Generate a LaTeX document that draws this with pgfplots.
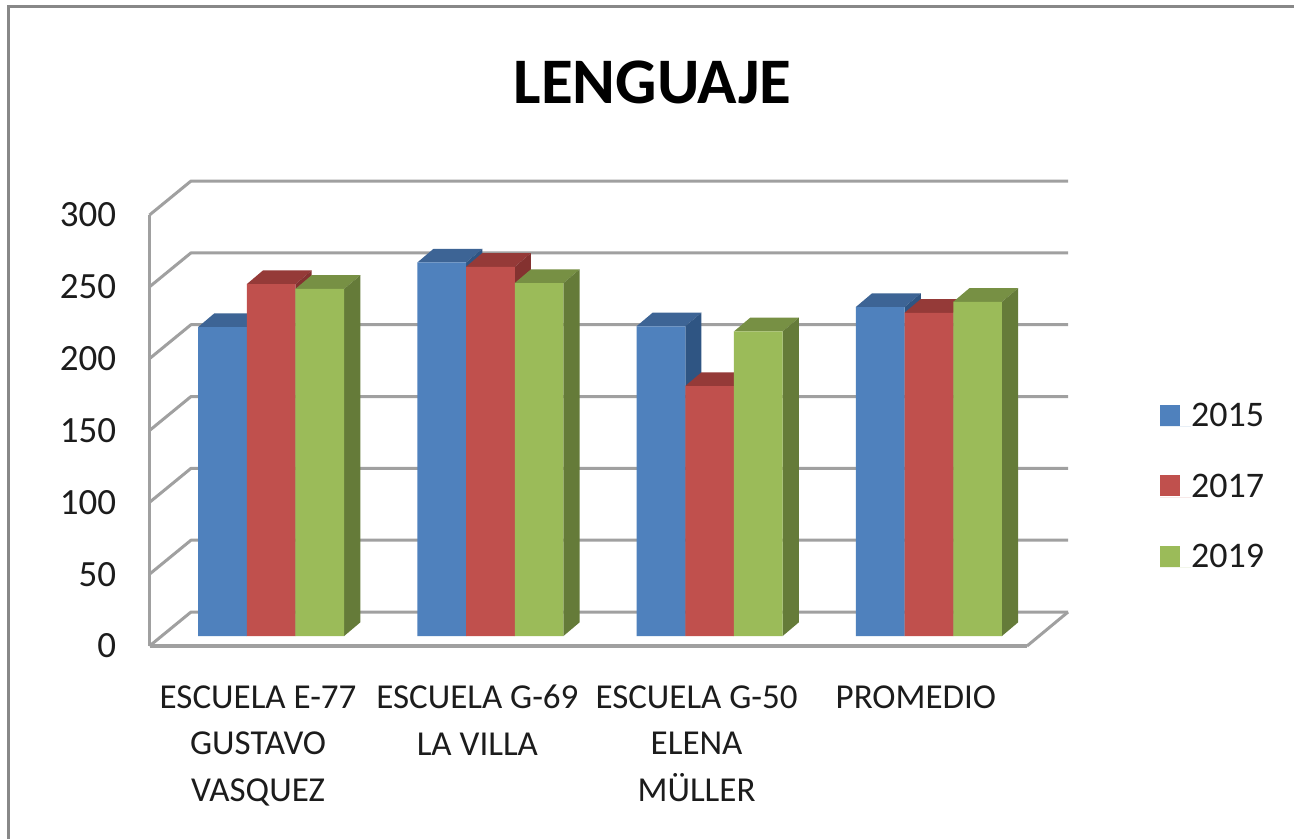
\documentclass[border=0pt]{standalone}
\usepackage{fontspec}
\setmainfont{Carlito}
\usepackage{pgfplots}
\pgfplotsset{compat=1.18}
\definecolor{blueF}{HTML}{4F81BD}
\definecolor{blueT}{HTML}{3D6495}
\definecolor{blueS}{HTML}{2F5583}
\definecolor{redF}{HTML}{C0504D}
\definecolor{redT}{HTML}{953A38}
\definecolor{redS}{HTML}{843230}
\definecolor{greenF}{HTML}{9BBB59}
\definecolor{greenT}{HTML}{779044}
\definecolor{greenS}{HTML}{657B39}
\definecolor{wall}{HTML}{A0A0A0}
\definecolor{frame}{HTML}{888888}
\definecolor{ink}{HTML}{1C1C1C}

% top and side of one bar: x centre, value, top colour, side colour
\newcommand{\barfaces}[4]{%
  \pgfmathsetmacro\xl{#1-24.35}%
  \pgfmathsetmacro\xr{#1+24.35}%
  \pgfmathsetmacro\xlb{#1-24.35+16.2}%
  \pgfmathsetmacro\xrb{#1+24.35+16.2}%
  \pgfmathsetmacro\vb{#2+9.54}%
  \addplot[fill=#3,draw=none,forget plot] coordinates {(\xl,#2) (\xr,#2) (\xrb,\vb) (\xlb,\vb)};
  \addplot[fill=#4,draw=none,forget plot] coordinates {(\xr,0) (\xr,#2) (\xrb,\vb) (\xrb,9.54)};
}
% one wall line: front value
\newcommand{\wallline}[1]{%
  \pgfmathsetmacro\vb{#1+23.66}%
  \addplot[wall,line width=3pt,line join=round] coordinates {(0,#1) (41.5,\vb) (918.5,\vb)};
}

\begin{document}
\begin{tikzpicture}[x=1pt,y=1pt]
\path[use as bounding box] (0,0) rectangle (1294,-839);
\fill[white] (0,0) rectangle (1294,-839);
\draw[frame,line width=3.2pt] (8.5,-839) -- (8.5,-6.5) -- (1294,-6.5);
\node[font=\fontsize{65}{65}\bfseries\selectfont,text=black] at (652.5,-82) {LENGUAJE};

% walls, floor and ticks
\begin{axis}[
    at={(149.5pt,-646pt)}, anchor=origin,
    scale only axis,
    width=877.5pt, height=431pt,
    xmin=0, xmax=877.5, ymin=0, ymax=300,
    clip=false,
    axis x line=bottom, axis y line=left,
    axis line style={wall,line width=3.6pt,-},
    major tick style={draw=none},
    ytick={0,50,...,300},
    xtick={109.6,328.9,548.1,767.4},
    xticklabels={{ESCUELA E-77\\GUSTAVO\\VASQUEZ},{ESCUELA G-69\\LA VILLA},{ESCUELA G-50\\ELENA\\MÜLLER},{PROMEDIO}},
    /pgf/number format/assume math mode=true,
    y tick label style={font=\fontsize{37}{37}\selectfont,text=ink,inner sep=0pt,xshift=-31pt},
    x tick label style={font=\fontsize{35}{46.5}\selectfont,text=ink,align=center,anchor=north,inner sep=0pt,yshift=-37pt,xshift=-1pt},
]
\wallline{0}
\wallline{50}
\wallline{100}
\wallline{150}
\wallline{200}
\wallline{250}
\wallline{300}
\addplot[wall,line width=3pt] coordinates {(877.5,0) (918.5,23.66)};
\end{axis}

% bars
\begin{axis}[
    at={(149.5pt,-636pt)}, anchor=origin,
    scale only axis,
    width=877.5pt, height=431pt,
    xmin=0, xmax=877.5, ymin=0, ymax=300,
    clip=false,
    hide axis,
    legend style={at={(1.1516,0.3475)},anchor=west,draw=none,fill=none,inner sep=0pt,
      font=\fontsize{36}{36}\selectfont,text=ink,
      nodes={inner sep=0pt,anchor=base west},
      /tikz/row sep=45.5pt},
    legend cell align=left,
    legend image code/.code={\fill[#1,draw=none] (0pt,1pt) rectangle (20pt,22pt);
      \path (0pt,0pt) -- (31pt,0pt);},
]
\barfaces{72.9}{215}{blueT}{blueS}
\barfaces{292.2}{260}{blueT}{blueS}
\barfaces{511.4}{215.6}{blueT}{blueS}
\barfaces{730.7}{229}{blueT}{blueS}
\addplot[ybar,bar width=48.7,fill=blueF,draw=none] coordinates {(72.9,215) (292.2,260) (511.4,215.6) (730.7,229)};
\addlegendentry{2015}
\barfaces{121.6}{244.9}{redT}{redS}
\barfaces{340.9}{257}{redT}{redS}
\barfaces{560.1}{174}{redT}{redS}
\barfaces{779.4}{225}{redT}{redS}
\addplot[ybar,bar width=48.7,fill=redF,draw=none] coordinates {(121.6,244.9) (340.9,257) (560.1,174) (779.4,225)};
\addlegendentry{2017}
\barfaces{170.3}{241.6}{greenT}{greenS}
\barfaces{389.6}{245.7}{greenT}{greenS}
\barfaces{608.8}{212}{greenT}{greenS}
\barfaces{828.1}{232.6}{greenT}{greenS}
\addplot[ybar,bar width=48.7,fill=greenF,draw=none] coordinates {(170.3,241.6) (389.6,245.7) (608.8,212) (828.1,232.6)};
\addlegendentry{2019}
\end{axis}
\end{tikzpicture}
\end{document}
